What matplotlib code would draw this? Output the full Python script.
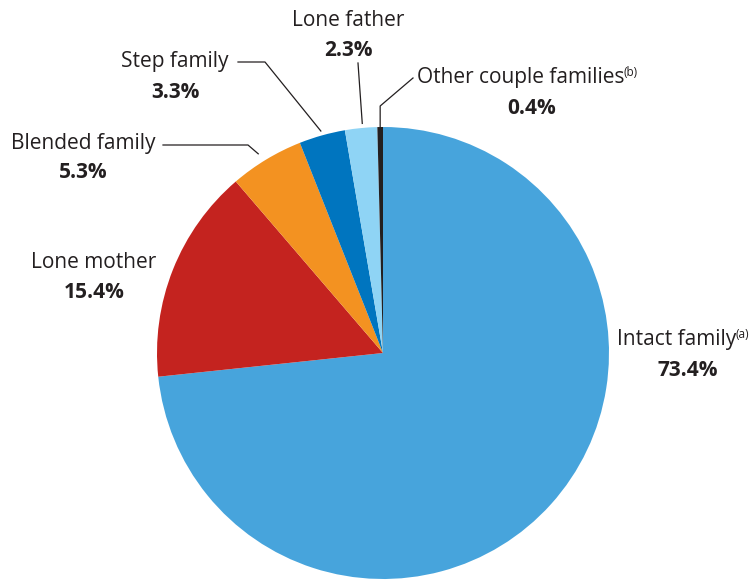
import matplotlib.pyplot as plt
import numpy as np

plt.rcParams['font.family'] = ['Open Sans', 'DejaVu Sans']

# data
labels = ["Intact family", "Lone mother", "Blended family", "Step family",
          "Lone father", "Other couple families"]
notes = ["(a)", "", "", "", "", "(b)"]
shares = [73.4, 15.4, 5.3, 3.3, 2.3, 0.4]
colors = ["#47a4dc", "#c4231f", "#f39221", "#0075bf", "#8fd4f5", "#231f20"]

W, H = 755, 580
TXT = "#231f20"

fig = plt.figure(figsize=(W / 100, H / 100), dpi=100)
ax = fig.add_axes([0, 0, 1, 1])

cx, cy, r = 383, H - 353, 226
wedges, _ = ax.pie(shares, colors=colors, startangle=90, counterclock=False,
                   center=(cx, cy), radius=r, frame=True,
                   wedgeprops=dict(linewidth=0))
ax.set_xlim(0, W)
ax.set_ylim(0, H)
ax.set_aspect('equal')
ax.axis('off')


def edge_point(w, frac=0.5, rr=1.0):
    a = np.deg2rad(w.theta1 + (w.theta2 - w.theta1) * frac)
    return cx + r * rr * np.cos(a), cy + r * rr * np.sin(a)


# label placement (pixel coords from the top), name line then value line
pos = {
    "Intact family": (677, 340),
    "Lone mother": (94, 263),
    "Blended family": (83, 143),
    "Step family": (175, 62),
    "Lone father": (348, 20),
    "Other couple families": (521, 78),
}

texts = []
for lab, note, val in zip(labels, notes, shares):
    x, y = pos[lab]
    t = ax.text(x, H - y, lab, ha='center', va='center', fontsize=15,
                color=TXT)
    ax.text(x + (11 if note else 0), H - y - 30, "{:.1f}%".format(val),
            ha='center', va='center', fontsize=15, fontweight='bold',
            color=TXT)
    texts.append((t, note))

# superscript notes
fig.canvas.draw()
rend = fig.canvas.get_renderer()
inv = ax.transData.inverted()
for t, note in texts:
    if not note:
        continue
    bb = t.get_window_extent(rend)
    x1, y1 = inv.transform((bb.x1, bb.y1))
    ax.text(x1 - 1, y1 + 1, note, ha='left', va='top', fontsize=8.5,
            color=TXT)

# leader lines
lw = 0.9
ex, ey = edge_point(wedges[3], 0.5, 1.02)
ax.plot([238, 265, ex], [H - 62, H - 62, ey], color=TXT, lw=lw)
ex, ey = edge_point(wedges[2], 0.55, 1.04)
ax.plot([163, 248, ex], [H - 145, H - 145, ey], color=TXT, lw=lw)
ex, ey = edge_point(wedges[4], 0.45, 1.02)
ax.plot([358, ex], [H - 63, ey], color=TXT, lw=lw)
ex, ey = edge_point(wedges[5], 0.5, 1.0)
ax.plot([413, ex, ex], [H - 78, H - 106, ey], color=TXT, lw=lw)

fig.savefig("out.png", dpi=100)
